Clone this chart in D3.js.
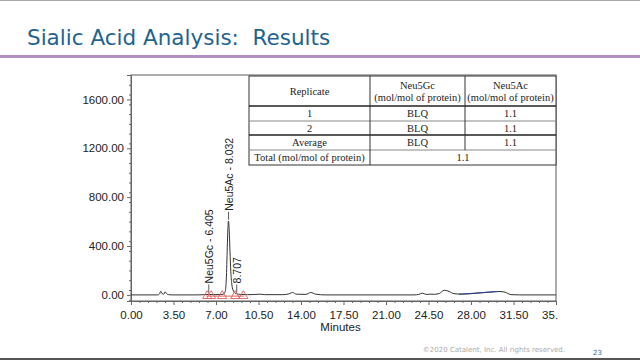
<!DOCTYPE html>
<html>
<head>
<meta charset="utf-8">
<script src="https://cdn.jsdelivr.net/npm/d3@7"></script>
<style>
  body { margin: 0; background: #fff; }
  svg { display: block; }
</style>
</head>
<body>
<svg id="chart" width="640" height="360"></svg>
<script>
// chromatogram trace (minutes, signal)
var traceTime = [0, 2.2, 2.35, 2.45, 2.55, 2.7, 2.8, 2.95, 3.1, 3.3, 5.5, 6.1, 6.4, 6.8, 7.4, 7.6, 7.75, 7.85, 7.93, 7.98, 8.032, 8.08, 8.15, 8.22, 8.3, 8.4, 8.55, 8.707, 9.0, 9.6, 10.2, 10.6, 11.0, 12.5, 13.0, 13.3, 13.6, 14.4, 14.8, 15.2, 16.0, 21.0, 23.3, 23.7, 24.0, 24.3, 24.7, 25.0, 25.4, 25.8, 26.2, 26.6, 27.3, 28.5, 29.5, 30.3, 30.8, 31.3, 32.0, 35.0]
var traceValue = [0, 0, 8, 30, 12, 6, 25, 8, 2, 0, 0, 2, 4, 2, 3, 6, 25, 130, 390, 545, 605, 545, 360, 190, 90, 40, 16, 9, 4, 2, 3, 6, 2, 2, 8, 20, 6, 4, 20, 6, 0, 0, 0, 4, 14, 4, 6, 5, 12, 38, 28, 10, 6, 14, 22, 28, 22, 2, 0, 0]
// integration baseline pieces
var blueTime = [27.0, 28.3, 29.3, 30.3]
var blueValue = [6, 14, 22, 28]
var redTime = [6.2, 9.3]
var redValue = [-10, -10]
var markerTime = [6.27, 6.6, 7.51, 8.58, 9.25]
// peak labels
var peakTime = [6.405, 8.032, 8.707]
var peakHeight = [20, 615, 20]
var peakLabel = ['Neu5Gc - 6.405', 'Neu5Ac - 8.032', '8.707']
// axes
var xTicks = [0, 3.5, 7, 10.5, 14, 17.5, 21, 24.5, 28, 31.5, 35]
var yTicks = [0, 400, 800, 1200, 1600]
// result table
var tableHeader = ['Replicate', 'Neu5Gc\n(mol/mol of protein)', 'Neu5Ac\n(mol/mol of protein)']
var tableRows = [['1', 'BLQ', '1.1'], ['2', 'BLQ', '1.1'], ['Average', 'BLQ', '1.1']]
var totalRow = ['Total (mol/mol of protein)', '1.1']

var svg = d3.select('#chart')

// slide title
svg.append('line').attr('x1', 0).attr('x2', 640).attr('y1', 0.5).attr('y2', 0.5)
  .attr('stroke', '#aaa').attr('stroke-width', 1)
svg.append('text').attr('x', 27).attr('y', 45).style('white-space', 'pre')
  .attr('font-family', 'DejaVu Sans').attr('font-size', 21.5).attr('fill', '#1f6391')
  .text('Sialic Acid Analysis:  Results')
svg.append('rect').attr('x', 0).attr('y', 55).attr('width', 640).attr('height', 3)
  .attr('fill', '#b38fc4')

var plotLeft = 131, plotRight = 556, plotTop = 75, plotBottom = 301
var x = d3.scaleLinear().domain([0, 35]).range([plotLeft, plotRight])
var y = d3.scaleLinear().domain([-50, 1800]).range([plotBottom, plotTop])

// frame
svg.append('rect').attr('x', plotLeft).attr('y', plotTop).attr('width', plotRight - plotLeft).attr('height', plotBottom - plotTop)
  .attr('fill', 'none').attr('stroke', '#777').attr('stroke-width', 1.2)

var font = 'Liberation Sans, Arial, sans-serif'

// y axis
var yAxis = svg.append('g').attr('transform', 'translate(' + plotLeft + ',0)')
  .call(d3.axisLeft(y).tickValues(yTicks).tickSize(4).tickFormat(d3.format('.2f')))
yAxis.selectAll('text').attr('font-family', font).attr('font-size', 11.5).attr('fill', '#222')
yAxis.select('.domain').attr('stroke', '#666')
yAxis.selectAll('.tick line').attr('stroke', '#666')
svg.append('g').attr('transform', 'translate(' + plotLeft + ',0)')
  .call(d3.axisLeft(y).tickValues(d3.range(-40, 1800, 80).filter(function (v) { return v % 400 !== 0 })).tickSize(2).tickFormat(''))
  .call(function (g) { g.select('.domain').remove(); g.selectAll('line').attr('stroke', '#666') })

// x axis (last label cut at the right edge like the source)
svg.append('clipPath').attr('id', 'xclip').append('rect').attr('x', 100).attr('y', -10).attr('width', 458).attr('height', 40)
var xAxis = svg.append('g').attr('transform', 'translate(0,' + plotBottom + ')').attr('clip-path', 'url(#xclip)')
  .call(d3.axisBottom(x).tickValues(xTicks).tickSize(4).tickPadding(6).tickFormat(d3.format('.2f')))
xAxis.selectAll('text').attr('font-family', font).attr('font-size', 11.5).attr('fill', '#222')
xAxis.select('.domain').attr('stroke', '#666')
xAxis.selectAll('.tick line').attr('stroke', '#666')
svg.append('g').attr('transform', 'translate(0,' + plotBottom + ')')
  .call(d3.axisBottom(x).tickValues(d3.range(0.7, 35, 0.7).filter(function (v, i) { return (i + 1) % 5 !== 0 })).tickSize(2).tickFormat(''))
  .call(function (g) { g.select('.domain').remove(); g.selectAll('line').attr('stroke', '#666') })
svg.append('text').attr('x', (plotLeft + plotRight) / 2 - 3).attr('y', 331).attr('text-anchor', 'middle')
  .attr('font-family', font).attr('font-size', 11.5).attr('fill', '#222').text('Minutes')

// trace
var line = d3.line().x(function (d) { return x(d[0]) }).y(function (d) { return y(d[1]) }).curve(d3.curveMonotoneX)
svg.append('path').datum(d3.zip(redTime, redValue)).attr('d', line)
  .attr('fill', 'none').attr('stroke', '#e06060').attr('stroke-width', 1)
svg.append('path').datum(d3.zip(traceTime, traceValue)).attr('d', line)
  .attr('fill', 'none').attr('stroke', '#333').attr('stroke-width', 1)
svg.append('path').datum(d3.zip(blueTime, blueValue)).attr('d', line)
  .attr('fill', 'none').attr('stroke', '#2a3f9a').attr('stroke-width', 1)

var tri = d3.symbol().type(d3.symbolTriangle).size(36)
svg.selectAll('.mark').data(markerTime).join('path').attr('class', 'mark')
  .attr('d', tri).attr('transform', function (d) { return 'translate(' + x(d) + ',' + (y(0) + 1) + ')' })
  .attr('fill', 'none').attr('stroke', '#e06060').attr('stroke-width', 0.9)

// peak labels
var peaks = d3.zip(peakTime, peakHeight, peakLabel)
svg.selectAll('.tickmark').data(peaks).join('line').attr('class', 'tickmark')
  .attr('x1', function (d) { return x(d[0]) }).attr('x2', function (d) { return x(d[0]) })
  .attr('y1', function (d) { return y(d[1]) - 8 }).attr('y2', function (d) { return y(d[1]) })
  .attr('stroke', '#333').attr('stroke-width', 0.8)
svg.selectAll('.plabel').data(peaks).join('text').attr('class', 'plabel')
  .attr('transform', function (d) { return 'translate(' + (x(d[0]) + 4) + ',' + (y(d[1]) - 9) + ') rotate(-90)' })
  .attr('font-family', font).attr('font-size', 10.5).attr('fill', '#222')
  .text(function (d) { return d[2] })

// results table
var tx = [249, 370, 465, 556]
var ty = [76, 106, 121, 135, 150, 165]
var tbl = svg.append('g')
tbl.append('rect').attr('x', tx[0]).attr('y', ty[0]).attr('width', tx[3] - tx[0]).attr('height', ty[5] - ty[0])
  .attr('fill', '#fff').attr('stroke', '#333').attr('stroke-width', 1)
tbl.selectAll('.hl').data(ty.slice(1, 5)).join('line').attr('class', 'hl')
  .attr('x1', tx[0]).attr('x2', tx[3]).attr('y1', function (d) { return d }).attr('y2', function (d) { return d })
  .attr('stroke', function (d, i) { return i === 0 || i === 2 ? '#222' : '#888' }).attr('stroke-width', function (d, i) { return i === 0 || i === 2 ? 1.3 : 1 })
tbl.selectAll('.vl').data([tx[1], tx[2]]).join('line').attr('class', 'vl')
  .attr('x1', function (d) { return d }).attr('x2', function (d) { return d })
  .attr('y1', ty[0]).attr('y2', function (d, i) { return i === 0 ? ty[5] : ty[4] })
  .attr('stroke', '#333').attr('stroke-width', 1)

var serif = 'Liberation Serif, Times New Roman, serif'
function cell(col, row, txt, x0, x1) {
  var cx = (x0 !== undefined ? (x0 + x1) / 2 : (tx[col] + tx[col + 1]) / 2)
  var lines = txt.split('\n')
  var cy = (ty[row] + ty[row + 1]) / 2
  lines.forEach(function (t, i) {
    tbl.append('text').attr('x', cx).attr('y', cy + (i - (lines.length - 1) / 2) * 12 + 3.5)
      .attr('text-anchor', 'middle').attr('font-family', serif).attr('font-size', 10.5).attr('fill', '#222').text(t)
  })
}
tableHeader.forEach(function (t, i) { cell(i, 0, t) })
tableRows.forEach(function (r, j) { r.forEach(function (t, i) { cell(i, j + 1, t) }) })
cell(0, 4, totalRow[0])
cell(0, 4, totalRow[1], tx[1], tx[3])

// footer
svg.append('text').attr('x', 565).attr('y', 352).attr('text-anchor', 'end')
  .attr('font-family', 'DejaVu Sans').attr('font-size', 7).attr('fill', '#aaa')
  .text('\u00a92020 Catalent, Inc. All rights reserved.')
svg.append('text').attr('x', 593).attr('y', 355)
  .attr('font-family', 'DejaVu Sans').attr('font-size', 7).attr('fill', '#2a6f9a').text('23')
svg.append('rect').attr('x', 0).attr('y', 358).attr('width', 640).attr('height', 2).attr('fill', '#555')
</script>
</body>
</html>
